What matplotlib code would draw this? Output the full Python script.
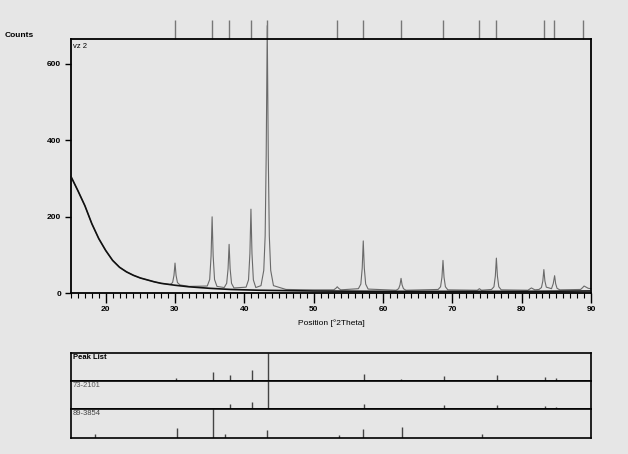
import matplotlib.pyplot as plt
from matplotlib.ticker import MultipleLocator

plt.rcParams['font.family'] = ['Liberation Sans', 'DejaVu Sans']

scan_2theta = [15, 16, 17, 18, 19, 20, 21, 22, 23, 24, 25, 26, 27, 28,
               29.3, 29.65, 29.85, 30.0, 30.15, 30.35, 30.7, 32,
               34.65, 35.0, 35.2, 35.35, 35.5, 35.7, 36.05,
               37.1, 37.25, 37.45, 37.65, 37.8, 37.95, 38.15, 38.5,
               40.25, 40.6, 40.8, 40.95, 41.1, 41.3, 41.65,
               42.4, 42.8, 43.0, 43.15, 43.3, 43.45, 43.6, 43.8, 44.2,
               46, 50, 52.9, 53.2, 53.4, 53.6, 53.9,
               56.45, 56.8, 57.0, 57.15, 57.3, 57.5, 57.85,
               61.9, 62.25, 62.45, 62.6, 62.75, 62.95, 63.3,
               67.95, 68.3, 68.5, 68.65, 68.8, 69.0, 69.35,
               73.6, 73.9, 74.2,
               75.65, 76.0, 76.2, 76.35, 76.5, 76.7, 77.05,
               80.9, 81.4, 81.9,
               82.5, 82.85, 83.05, 83.2, 83.35, 83.55, 83.95,
               84.3, 84.55, 84.75, 84.9, 85.1, 85.5,
               88.5, 88.8, 89.0, 89.3, 89.6, 90]
scan_counts = [305, 268, 229, 182, 143, 112, 86, 68, 56, 47, 40, 35, 30, 26,
               23, 28, 47, 79, 47, 28, 22, 18,
               19, 36, 98, 200, 98, 36, 18,
               15, 20, 26, 64, 128, 64, 26, 14,
               16, 35, 104, 220, 104, 35, 15,
               20, 60, 150, 360, 700, 360, 150, 60, 20,
               10, 9, 9, 13, 17, 13, 9,
               12, 24, 66, 137, 66, 24, 11,
               8, 12, 22, 39, 22, 12, 8,
               10, 17, 42, 86, 42, 17, 9,
               8, 12, 8,
               10, 17, 45, 92, 45, 17, 9,
               8, 14, 9,
               10, 15, 32, 62, 32, 16, 14,
               12, 25, 46, 25, 13, 9,
               10, 15, 19, 16, 13, 12]

# background line (black)
bg_2theta = [15, 16, 17, 18, 19, 20, 21, 22, 23, 24, 25, 26, 27, 28,
             30, 32, 35, 38, 42, 46, 50, 60, 70, 80, 90]
bg_counts = [305, 268, 229, 182, 143, 112, 86, 68, 56, 47, 40, 35, 30, 26,
             21, 17, 13, 10, 8, 7, 6, 5, 5, 5, 6]

# reference marks above the plot
top_marks = [30.0, 35.3, 37.8, 40.9, 43.3, 53.3, 57.1, 62.6, 68.6,
             73.9, 76.3, 83.2, 84.7, 88.9]

# stick patterns (relative intensity, %)
peaklist_pos = [30.1, 35.4, 37.9, 41.0, 43.3, 57.2, 62.6, 68.7, 76.4, 83.3, 84.9, 89.1]
peaklist_int = [12, 32, 21, 38, 100, 24, 8, 19, 21, 14, 11, 5]
ref1_pos = [37.9, 41.0, 43.3, 57.2, 68.8, 76.4, 83.3, 84.9]
ref1_int = [20, 26, 100, 18, 14, 14, 12, 10]
ref2_pos = [18.4, 30.2, 35.5, 37.2, 43.2, 53.6, 57.1, 62.7, 74.2]
ref2_int = [12, 34, 100, 14, 28, 10, 29, 38, 13]

bgc = '#e6e6e6'
fig = plt.figure(figsize=(6.28, 4.54), dpi=100, facecolor=bgc)

# main diffractogram
ax = fig.add_axes([0.1131, 0.3540, 0.8280, 0.5600], facecolor=bgc)
ax.plot(scan_2theta, scan_counts, color='#6a6a6a', lw=0.8, clip_on=False, zorder=2)
ax.plot(bg_2theta, bg_counts, color='#111111', lw=1.2, zorder=3)
ax.set_xlim(15, 90)
ax.set_ylim(0, 665)
ax.set_yticks([0, 200, 400, 600])
ax.xaxis.set_major_locator(MultipleLocator(10))
ax.xaxis.set_minor_locator(MultipleLocator(1))
ax.tick_params(axis='x', which='major', length=7, width=1, pad=2, labelsize=6)
ax.tick_params(axis='x', which='minor', length=3.5, width=0.8)
ax.tick_params(axis='y', length=4, width=1, pad=3, labelsize=6)
for lab in ax.get_xticklabels() + ax.get_yticklabels():
    lab.set_fontweight('bold')
for s in ax.spines.values():
    s.set_linewidth(1.3)
ax.set_xlabel('Position [°2Theta]', fontsize=6, labelpad=5)
ax.text(0.004, 0.985, 'vz 2', transform=ax.transAxes, fontsize=5.5,
        ha='left', va='top')
ax.vlines(top_marks, 1.0, 1.075, transform=ax.get_xaxis_transform(),
          color='#777777', lw=1, clip_on=False)
fig.text(0.008, 0.921, 'Counts', fontsize=6, fontweight='bold', ha='left', va='center')

# stick panels
panels = [('Peak List', peaklist_pos, peaklist_int, 'black', 'bold'),
          ('73-2101', ref1_pos, ref1_int, '#555555', 'normal'),
          ('89-3854', ref2_pos, ref2_int, '#444444', 'normal')]
h = 0.1872 / 3
for i, (name, pos, inten, col, fw) in enumerate(panels):
    pax = fig.add_axes([0.1135, 0.0359 + (2 - i) * h, 0.8282, h], facecolor=bgc)
    pax.vlines(pos, 0, inten, color='#444444', lw=1)
    pax.set_xlim(15, 90)
    pax.set_ylim(0, 100)
    pax.set_xticks([])
    pax.set_yticks([])
    for s in pax.spines.values():
        s.set_linewidth(1.2)
    pax.text(0.003, 0.97, name, transform=pax.transAxes, fontsize=5.5,
             color=col, fontweight=fw, ha='left', va='top')

fig.savefig('out.png', dpi=100, facecolor=bgc)
